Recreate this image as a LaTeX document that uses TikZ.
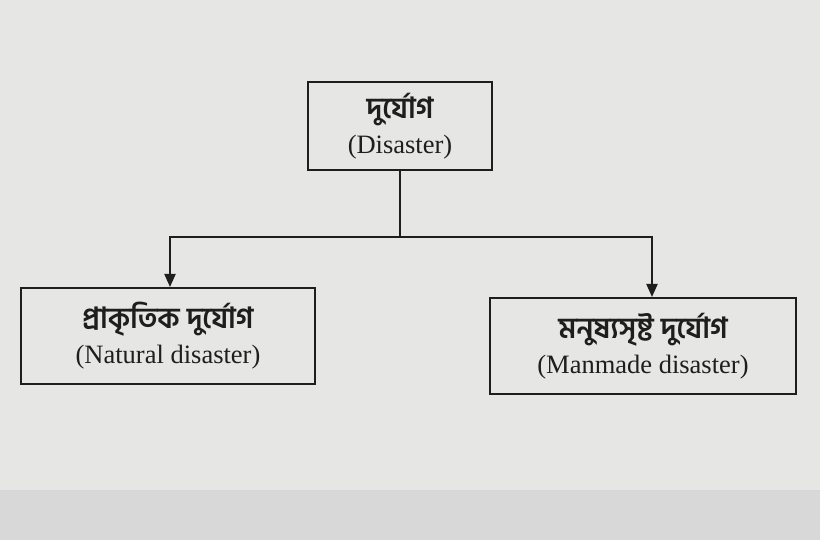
\documentclass[tikz,border=0pt]{standalone}
\usepackage{fontspec}
\setmainfont{Liberation Serif}
\newfontfamily\bnfont[Script=Bengali, Scale=1.1]{Hind Siliguri}
\usepackage{tikz}
\usetikzlibrary{arrows.meta, positioning}
\definecolor{paper}{RGB}{230, 230, 228}
\definecolor{table1}{RGB}{216, 216, 216}
\definecolor{ink}{RGB}{30, 30, 30}
\tikzset{
  disbox/.style={draw=ink, line width=2pt, align=center, inner sep=2pt,
    font=\fontsize{26.5}{35}\selectfont, text=ink},
  branch/.style={draw=ink, line width=2pt},
  drop/.style={branch, -{Triangle[width=11pt, length=13pt]}}
}

\begin{document}
\begin{tikzpicture}[x=1pt, y=-1pt]
  % Page and table
  \fill[paper] (0,0) rectangle (820,490);
  \fill[table1] (0,490) rectangle (820,540);
  \useasboundingbox (0,0) rectangle (820,540);

  % Main box
  \node[disbox, minimum width=184pt, minimum height=88pt] (disaster) at (400, 126) {
    {\bnfont\bfseries দুর্যোগ}\\
    (Disaster)
  };

  % Two kinds
  \node[disbox, minimum width=294pt, minimum height=96pt] (natural) at (168, 336) {
    {\bnfont\bfseries প্রাকৃতিক দুর্যোগ}\\
    (Natural disaster)
  };

  \node[disbox, minimum width=306pt, minimum height=96pt] (manmade) at (643, 346) {
    {\bnfont\bfseries মনুষ্যসৃষ্ট দুর্যোগ}\\
    (Manmade disaster)
  };

  % Connectors
  \coordinate (split) at (400, 237);
  \draw[branch] (disaster.south) -- (split);
  \draw[drop] (split) -| ([xshift=2pt]natural.north);
  \draw[drop] (split) -| ([xshift=9pt]manmade.north);
\end{tikzpicture}
\end{document}
